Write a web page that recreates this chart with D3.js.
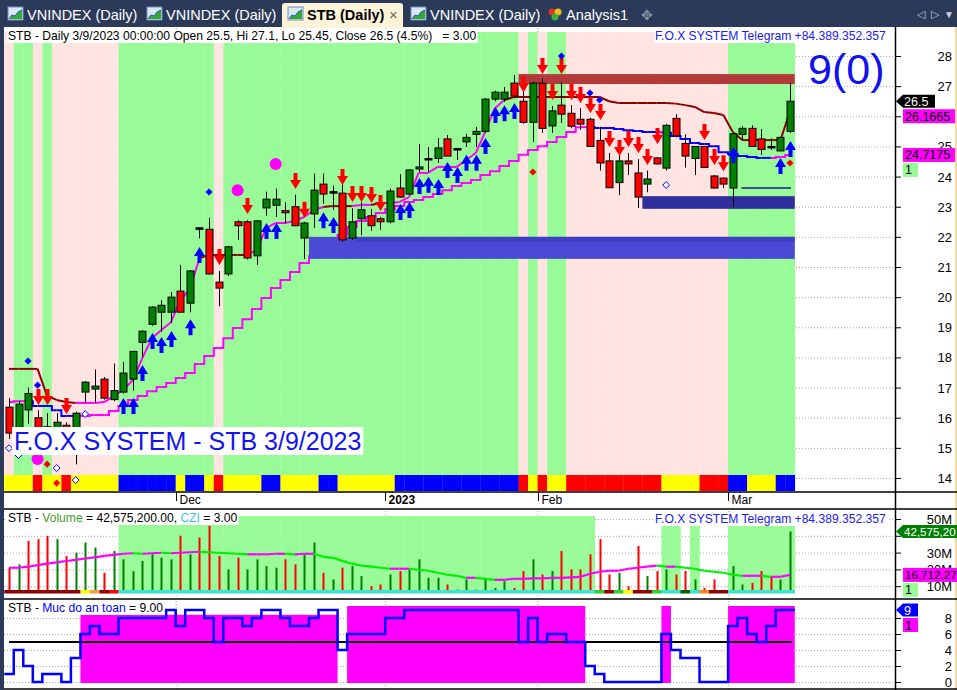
<!DOCTYPE html>
<html>
<head>
<meta charset="utf-8">
<script src="https://cdn.jsdelivr.net/npm/d3@7"></script>
<style>
body { margin: 0; background: #fff; overflow: hidden; }
text { font-family: "Liberation Sans", Arial, sans-serif; }
</style>
</head>
<body>
<script>
// ---- data, one entry per trading day, 8 Nov 2022 .. 9 Mar 2023
var opens  = [16.35,15.5,16.26,16.0,15.4,15.4,15.75,15.4,16.85,16.95,17.28,16.6,16.85,17.28,18.5,19.1,19.5,19.5,20.2,19.8,22.3,22.25,20.5,20.77,22.5,22.5,21.37,22.96,23.05,22.87,23.0,21.96,22.76,23.75,23.5,23.45,21.96,22.6,22.7,22.6,22.5,23.62,23.42,24.25,24.6,24.6,25.25,24.93,25.15,25.4,25.5,26.57,26.57,27.1,26.5,25.8,27.1,25.68,26.37,26.1,25.9,25.9,25.2,24.52,23.8,24.52,24.12,23.75,24.62,24.28,25.93,25.1,24.6,25.0,24.02,23.95,23.62,25.4,25.6,25.25,25.0,24.85,25.5];
var highs  = [16.65,16.55,17.0,16.25,16.15,16.15,15.85,16.2,17.22,17.6,17.35,17.8,17.85,18.2,18.9,19.7,19.9,20.17,21.07,20.9,22.3,22.63,20.87,21.7,22.55,22.55,22.55,23.5,23.6,23.15,23.4,22.5,24.1,24.1,23.7,23.9,22.95,23.15,22.93,22.66,23.6,24.08,24.25,25.08,24.98,25.28,25.38,24.95,25.42,25.65,26.6,26.85,26.97,27.37,26.9,27.15,27.27,26.34,27.14,26.37,26.27,25.95,25.65,24.78,24.8,24.78,24.58,24.2,24.65,25.75,26.07,25.4,25.0,25.02,24.05,23.97,25.45,25.67,25.7,25.58,25.27,25.3,27.1];
var lows   = [15.3,15.4,15.8,15.2,15.2,15.1,15.1,14.45,16.5,16.5,16.6,16.55,16.8,16.9,18.0,19.05,18.85,19.14,19.5,19.5,21.95,20.75,19.7,20.7,21.9,21.25,21.07,22.7,22.66,22.45,22.35,21.27,22.3,23.1,22.9,21.83,21.9,22.05,22.2,22.23,22.45,23.3,23.4,24.15,24.15,24.45,24.68,24.55,24.98,24.98,25.45,26.5,26.48,26.6,25.75,25.15,25.45,25.45,25.78,25.6,25.55,25.0,24.2,23.63,23.38,24.05,22.96,23.48,24.4,24.2,25.3,24.3,24.05,24.3,23.6,23.62,23.0,25.2,25.0,24.72,24.88,24.85,25.45];
var closes = [15.49,16.45,16.8,15.4,15.7,15.85,15.3,16.15,17.18,17.05,16.65,16.9,17.48,18.2,18.87,19.67,19.73,20.0,19.5,20.87,22.3,20.77,20.3,21.67,22.37,21.3,22.53,23.25,23.25,22.8,22.37,22.46,23.55,23.42,23.5,21.9,22.5,22.9,22.37,22.5,23.52,23.32,24.22,24.32,24.6,24.95,24.68,24.93,25.3,25.5,26.57,26.8,26.8,26.67,25.8,27.1,25.6,26.18,26.07,25.67,25.74,25.0,24.45,23.63,24.52,24.42,23.32,23.92,24.42,25.7,25.35,24.68,25.0,24.3,23.62,23.75,25.42,25.6,25.0,24.9,25.0,25.3,26.5];

// trailing lines on the price pane
var upperLine  = [17.62,17.62,17.62,17.62,16.72,16.59,16.52,16.49,16.49,16.49,16.52,16.72,16.92,17.25,17.98,18.64,18.91,19.17,19.9,20.27,21.3,21.4,21.4,21.4,21.4,21.4,21.56,22.29,22.46,22.46,22.53,22.66,22.89,22.99,23.02,23.02,23.02,23.06,23.06,23.12,23.12,23.16,23.32,24.12,24.12,24.32,24.32,24.32,24.55,24.78,25.48,26.27,26.54,26.64,26.64,26.64,26.64,26.64,26.64,26.64,26.64,26.64,26.64,26.5,26.44,26.44,26.44,26.44,26.44,26.44,26.42,26.37,26.31,26.14,26.11,26.04,25.48,25.21,25.21,25.21,25.21,25.21,26.1665];
var upperState = "RRRRRRRRMMMMMMMMMMMMMRRRRRMMMMMMMMRRRMMRMMMMMMMMMMMMMRRRRRRRRRRRRRRRRRRRRRRRRRRRRRRM";
var lowerLine  = [16.52,16.55,16.55,16.39,16.39,16.25,16.06,16.06,16.06,16.09,16.09,16.22,16.39,16.59,16.72,16.88,17.02,17.15,17.32,17.48,17.78,18.05,18.31,18.64,18.98,19.27,19.61,19.97,20.3,20.57,20.83,21.13,21.36,21.63,21.83,22.06,22.33,22.53,22.66,22.79,22.92,23.02,23.16,23.22,23.32,23.42,23.55,23.69,23.79,23.89,24.05,24.18,24.35,24.52,24.72,24.88,25.01,25.15,25.31,25.48,25.64,25.64,25.61,25.61,25.58,25.54,25.51,25.48,25.48,25.45,25.35,25.25,25.11,25.08,25.01,24.81,24.75,24.68,24.65,24.62,24.62,24.65,24.7175];
var lowerState = "BMMBBBBBMMMMMMMMMMMMMMMMMMMMMMMMMMMMMMMMMMMMMMMMMMMMMMMMMMMMMMBBBBBBBMBBBBBBBBBBBMM";

// background regime per day, as runs
var priceBgRuns = [["P",1],["G",2],["P",1],["G",1],["P",7],["G",10],["P",1],["G",31],["P",1],["G",1],["P",1],["G",2],["P",17],["g",7]];
var signalRuns  = [["Y",3],["R",1],["Y",2],["R",1],["Y",5],["B",6],["Y",1],["B",2],["Y",1],["R",1],["Y",4],["B",2],["Y",4],["B",2],["Y",6],["B",13],["R",1],["Y",1],["R",1],["Y",2],["R",10],["Y",4],["R",3],["B",2],["Y",3],["B",2]];

// markers: [day, price]
var buyArrows  = [[12,16.65],[13,16.65],[14,17.75],[15,18.81],[16,18.68],[17,18.88],[19,19.27],[20,21.66],[27,22.46],[28,22.46],[33,22.82],[34,22.66],[41,23.09],[42,23.16],[43,23.95],[44,23.99],[45,23.92],[46,24.48],[47,24.32],[48,24.72],[49,24.72],[50,25.28],[51,26.31],[52,26.37],[53,26.44],[76,24.98],[81,24.62],[82,25.18]];
var sellArrows = [[3,16.42],[4,16.42],[6,16.12],[22,21.07],[25,22.76],[30,23.59],[31,22.63],[35,23.72],[36,23.16],[37,23.16],[38,23.12],[39,22.86],[54,26.8],[56,27.4],[57,26.54],[58,27.4],[59,26.54],[60,26.44],[61,26.11],[62,25.88],[63,24.98],[64,24.68],[65,24.98],[66,24.78],[67,24.38],[68,25.08],[73,25.21],[74,24.38],[75,24.18]];
var blueDots   = [[2,17.88],[3,17.08],[21,23.49],[58,28.0],[61,26.77],[62,26.54]];
var redDots    = [[55,24.15],[82,24.45],[4,14.46],[5,13.83]];
var pinkDots   = [[3,14.63],[24,23.55],[28,24.42]];
var hollowDots = [[8,16.12],[0,14.99],[1,14.76],[5,14.33],[7,13.93],[69,23.72]];

// support / resistance zones: [fromDay, toDay, lowPrice, highPrice]
var zones = [
  { from: 32, to: 82, lo: 21.27, hi: 22.0, kind: "support" },
  { from: 67, to: 82, lo: 22.93, hi: 23.35, kind: "support2" },
  { from: 54, to: 82, lo: 27.07, hi: 27.4, kind: "resist" }
];
var thinLevel = { from: 77, to: 82, price: 23.62 };

// volume pane (millions)
var volumes = [21,23,37,38,40,38,28,30,36,33,18,31,26,19,25,29,27,26,40,29,39,46,28,20,27,20,26,22,21,26,23,29,36,18,14,21,22,16,10,11,17,19,20,26,15,15,11,8,14,8,15,9,13,9,19,26,17,19,31,20,20,29,38,17,18,10,34,16,19,20,17,19,14,9,14,4,22,11,12,19,16,14,42.5752];
var volColors = "RGRRRGRGGGRGGGGGGGRGRRRGRGGGGRRGGRGRGGRRGRGGGGRGGGGGGRRGRGRRRRRRGRRGRGRRGRRRGGRRRGG";
var volAvg = [21.0,21.0,21.6,22.5,23.4,24.2,25.0,25.7,26.5,27.2,28.0,28.7,29.3,29.6,29.3,29.6,29.9,29.6,29.9,30.2,30.5,30.2,29.9,29.6,29.3,29.0,29.0,29.0,29.3,29.3,29.0,29.3,29.3,27.5,26.9,25.1,23.4,22.2,21.6,21.0,20.4,20.4,20.4,19.8,19.2,18.0,16.8,16.2,15.0,15.0,14.4,13.8,13.8,14.4,14.4,14.7,14.7,15.0,15.0,15.3,15.6,17.4,18.6,19.2,19.2,20.4,21.0,21.6,22.2,21.6,21.6,21.0,20.4,19.2,18.6,18.0,16.8,16.2,16.2,16.2,15.6,15.6,16.7123];
var volBgRuns    = [["-",12],["H",50],["-",7],["L",2],["-",1],["L",1],["-",3],["L",7]];
var volStripRuns = [["D",8],["Y",1],["T",1],["D",1],["R",1],["C",50],["G",1],["D",1],["G",1],["Y",1],["D",2],["G",1],["C",2],["K",1],["C",1],["O",1],["D",2],["C",7]];

// safety level pane
var safety = [1,4,2,0,1,1,0,3,6,7,6,6,8,8,8,8,8,9,7,9,9,8,5,8,8,7,8,9,9,8,7,7,8,9,9,4,6,6,6,6,8,8,9,9,9,9,9,9,9,9,9,9,9,9,5,8,5,6,6,5,5,2,1,0,0,0,0,0,0,6,4,3,3,0,0,0,7,8,6,5,7,9,9];
var safeZones = [{ from: 8, to: 34, top: 8.4 }, { from: 36, to: 60, top: 9.5 }, { from: 69, to: 69, top: 9.5 }, { from: 76, to: 82, top: 9.5 }];

var months = [{ day: 18, label: "Dec", bold: false }, { day: 40, label: "2023", bold: true }, { day: 56, label: "Feb", bold: false }, { day: 76, label: "Mar", bold: false }];
var priceTicks = [14,15,16,17,18,19,20,21,22,23,24,25,26,27,28];
var priceLabels = [14,15,16,17,18,19,20,21,22,23,24,25,27,28];   // 26 sits under the value tag
var volTicks = [10,20,30,40,50];
var volLabels = [10,20,30,50];                                   // 40M sits under the volume tag
var safeTicks = [0,2,4,6,8];
var tabs = ["VNINDEX (Daily)", "VNINDEX (Daily)", "STB (Daily)", "VNINDEX (Daily)", "Analysis1"];

// ---- drawing
var W = 957, H = 690;
var svg = d3.select("body").append("svg").attr("width", W).attr("height", H);

var x = d3.scaleLinear().domain([0, closes.length - 1]).range([9, 790]);
var bw = x(1) - x(0);
var y = d3.scaleLinear().domain([14, 28]).range([478, 56]);
var yv = d3.scaleLinear().domain([0, 50]).range([603, 519]);
var ys = d3.scaleLinear().domain([0, 8]).range([682, 618]);

var AXIS_X = 895;
var LABEL_FONT = "12.1px";

function expand(runs) {
    var out = [];
    runs.forEach(function(r) { for (var j = 0; j < r[1]; j++) out.push(r[0]); });
    return out;
}

// frame
svg.append("rect").attr("x", 0).attr("y", 0).attr("width", W).attr("height", H).attr("fill", "#fff");
svg.append("rect").attr("x", 0).attr("y", 0).attr("width", 4).attr("height", H).attr("fill", "#2b3a58");
svg.append("rect").attr("x", 955).attr("y", 27).attr("width", 2).attr("height", H).attr("fill", "#f2d9a2");

// ---------- tab bar
svg.append("rect").attr("x", 0).attr("y", 0).attr("width", W).attr("height", 27).attr("fill", "#2b3a58");
var tabX = [8, 147, 288, 411, 548];
svg.append("path")
    .attr("d", "M282,28 L282,6 Q282,3 285,3 L400,3 Q403,3 403,6 L403,28 Z")
    .attr("fill", "#fdf3d8");
tabs.forEach(function(t, i) {
    var tx = tabX[i];
    if (i < 4) {
        var g = svg.append("g").attr("transform", "translate(" + tx + ",7)");
        g.append("rect").attr("width", 15).attr("height", 13).attr("fill", "#dbe7f5").attr("stroke", "#6d8fc0");
        g.append("path").attr("d", "M1,12 L4,8 L7,9 L10,5 L14,3 L14,12 Z").attr("fill", "#35a835");
        g.append("path").attr("d", "M1,12 L4,8 L7,9 L10,5 L14,3").attr("fill", "none").attr("stroke", "#2a5fb0");
    } else {
        svg.append("circle").attr("cx", tx + 4).attr("cy", 12).attr("r", 3.5).attr("fill", "#e0302a");
        svg.append("circle").attr("cx", tx + 10).attr("cy", 12).attr("r", 3.5).attr("fill", "#f0c020");
        svg.append("circle").attr("cx", tx + 7).attr("cy", 17).attr("r", 3.5).attr("fill", "#3cb040");
    }
    svg.append("text")
        .attr("x", tx + (i < 4 ? 19 : 18)).attr("y", 20)
        .attr("font-size", "14.5px")
        .attr("font-weight", i === 2 ? "bold" : "normal")
        .attr("fill", i === 2 ? "#000" : "#fff")
        .text(t);
});
svg.append("text").attr("x", 389).attr("y", 20).attr("font-size", "15px").attr("fill", "#666").text("×");
svg.append("text").attr("x", 641).attr("y", 20).attr("font-size", "14px").attr("fill", "#8a93a6").text("✥");
svg.append("text").attr("x", 917).attr("y", 18).attr("font-size", "11px").attr("fill", "#c8cdd8").text("◁");
svg.append("text").attr("x", 931).attr("y", 18).attr("font-size", "11px").attr("fill", "#c8cdd8").text("▷");
svg.append("text").attr("x", 944).attr("y", 18).attr("font-size", "10px").attr("fill", "#c8cdd8").text("▼");

// ---------- grid (drawn first; backgrounds sit over it)
function hGrid(vals, scale) {
    svg.append("g").selectAll("line").data(vals).enter().append("line")
        .attr("x1", 4).attr("x2", AXIS_X)
        .attr("y1", function(d) { return scale(d) + 0.5; }).attr("y2", function(d) { return scale(d) + 0.5; })
        .attr("stroke", "#a8a8a8").attr("stroke-dasharray", "1,2");
}
hGrid(priceTicks, y);
hGrid(volTicks, yv);
hGrid(safeTicks, ys);
svg.append("g").selectAll("line").data(months).enter().append("line")
    .attr("x1", function(d) { return x(d.day) - bw / 2 + 0.5; })
    .attr("x2", function(d) { return x(d.day) - bw / 2 + 0.5; })
    .attr("y1", 28).attr("y2", 689)
    .attr("stroke", "#a8a8a8").attr("stroke-dasharray", "1,2");

// ---------- price pane backgrounds
var bgPerDay = expand(priceBgRuns);
svg.append("g").selectAll("rect").data(bgPerDay).enter().append("rect")
    .attr("x", function(d, i) { return x(i) - bw / 2; })
    .attr("width", bw + 0.3)
    .attr("y", function(d) { return d === "g" ? 43 : 32; })
    .attr("height", function(d) { return 475 - (d === "g" ? 43 : 32); })
    .attr("fill", function(d) { return d === "P" ? "#ffe4e1" : "#98fb98"; });

var sigColor = { Y: "#ffff00", R: "#ff0000", B: "#0000ff" };
svg.append("g").selectAll("rect").data(expand(signalRuns)).enter().append("rect")
    .attr("x", function(d, i) { return x(i) - bw / 2; })
    .attr("width", bw + 0.3)
    .attr("y", 475).attr("height", 16)
    .attr("fill", function(d) { return sigColor[d]; });

// ---------- trailing lines
function drawSegments(vals, states, colors, curve) {
    for (var i = 0; i < vals.length - 1; i++) {
        var pts = [[x(i), y(vals[i])], [x(i + 1), y(vals[i + 1])]];
        svg.append("path")
            .attr("d", d3.line().curve(curve)(pts))
            .attr("fill", "none")
            .attr("stroke", colors[states[i + 1]])
            .attr("stroke-width", 2);
    }
}
drawSegments(lowerLine, lowerState, { M: "#ff00ff", B: "#0000ff" }, d3.curveStep);
drawSegments(upperLine, upperState, { M: "#ff00ff", R: "#8b0000" }, d3.curveLinear);

// ---------- zones
var zoneFill = { support: "#4949d6", support2: "#2e2e9c", resist: "#b23a3a" };
zones.forEach(function(z) {
    svg.append("rect")
        .attr("x", x(z.from) - bw / 2).attr("width", x(z.to) - x(z.from) + bw)
        .attr("y", y(z.hi)).attr("height", y(z.lo) - y(z.hi))
        .attr("fill", zoneFill[z.kind]);
});
svg.append("rect")
    .attr("x", x(zones[0].from + 5) - bw / 2).attr("width", x(zones[0].to) - x(zones[0].from + 5) + bw)
    .attr("y", y(zones[0].hi)).attr("height", 5).attr("fill", "#3f3fc4");
svg.append("line")
    .attr("x1", x(thinLevel.from) - 1).attr("x2", x(thinLevel.to) + 1)
    .attr("y1", y(thinLevel.price)).attr("y2", y(thinLevel.price))
    .attr("stroke", "#1a1a8c").attr("stroke-width", 1.5);

// ---------- candles
var candles = svg.append("g").selectAll("g").data(closes).enter().append("g");
candles.append("line")
    .attr("x1", function(d, i) { return Math.round(x(i)) + 0.5; })
    .attr("x2", function(d, i) { return Math.round(x(i)) + 0.5; })
    .attr("y1", function(d, i) { return y(highs[i]); })
    .attr("y2", function(d, i) { return y(lows[i]); })
    .attr("stroke", "#000");
candles.append("rect")
    .attr("x", function(d, i) { return Math.round(x(i)) - 3; })
    .attr("width", 7)
    .attr("y", function(d, i) { return y(Math.max(opens[i], d)); })
    .attr("height", function(d, i) { return Math.max(1.5, Math.abs(y(opens[i]) - y(d))); })
    .attr("fill", function(d, i) {
        if (Math.abs(d - opens[i]) < 0.03) return "#000";
        return d > opens[i] ? "#008000" : "#ff0000";
    })
    .attr("stroke", "#000").attr("stroke-width", 1);

// ---------- markers
svg.append("g").selectAll("path").data(buyArrows).enter().append("path")
    .attr("d", function(d) {
        var cx = Math.round(x(d[0])) + 0.5, ty = y(d[1]);
        return "M" + cx + "," + ty + " L" + (cx + 5.5) + "," + (ty + 9) + " L" + (cx + 2) + "," + (ty + 9) +
            " L" + (cx + 2) + "," + (ty + 16) + " L" + (cx - 2) + "," + (ty + 16) + " L" + (cx - 2) + "," + (ty + 9) +
            " L" + (cx - 5.5) + "," + (ty + 9) + " Z";
    })
    .attr("fill", "#0000ff");
svg.append("g").selectAll("path").data(sellArrows).enter().append("path")
    .attr("d", function(d) {
        var cx = Math.round(x(d[0])) + 0.5, ty = y(d[1]);
        return "M" + cx + "," + ty + " L" + (cx + 5.5) + "," + (ty - 9) + " L" + (cx + 2) + "," + (ty - 9) +
            " L" + (cx + 2) + "," + (ty - 16) + " L" + (cx - 2) + "," + (ty - 16) + " L" + (cx - 2) + "," + (ty - 9) +
            " L" + (cx - 5.5) + "," + (ty - 9) + " Z";
    })
    .attr("fill", "#ff0000");

var diamond = d3.symbol().type(d3.symbolDiamond2 || d3.symbolDiamond).size(32);
svg.append("g").selectAll("path").data(blueDots).enter().append("path")
    .attr("transform", function(d) { return "translate(" + x(d[0]) + "," + y(d[1]) + ")"; })
    .attr("d", diamond).attr("fill", "#0000ff");
svg.append("g").selectAll("path").data(redDots).enter().append("path")
    .attr("transform", function(d) { return "translate(" + x(d[0]) + "," + y(d[1]) + ")"; })
    .attr("d", diamond).attr("fill", "#ff0000");
svg.append("g").selectAll("path").data(hollowDots).enter().append("path")
    .attr("transform", function(d) { return "translate(" + x(d[0]) + "," + y(d[1]) + ")"; })
    .attr("d", d3.symbol().type(d3.symbolDiamond2 || d3.symbolDiamond).size(30))
    .attr("fill", "#fff").attr("stroke", "#0000ff").attr("stroke-width", 1);
svg.append("g").selectAll("circle").data(pinkDots).enter().append("circle")
    .attr("cx", function(d) { return x(d[0]); }).attr("cy", function(d) { return y(d[1]); })
    .attr("r", 6).attr("fill", "#ff00ff");

// ---------- texts on price pane
function boxedText(tx, ty, str, size, color, opts) {
    opts = opts || {};
    var g = svg.append("g");
    var bg = g.append("rect").attr("fill", opts.bg || "#fff");
    var t = g.append("text").attr("x", tx).attr("y", ty).attr("font-size", size).attr("fill", color)
        .style("white-space", "pre").text(str);
    var b = t.node().getBBox();
    bg.attr("x", b.x - (opts.padL || 1)).attr("y", b.y).attr("width", b.width + (opts.padL || 1) + (opts.padR || 1)).attr("height", b.height);
    return g;
}
boxedText(14, 450, "F.O.X SYSTEM - STB 3/9/2023", "25px", "#1414f0", { padL: 2, padR: 2 });
boxedText(8, 40, "STB - Daily 3/9/2023 00:00:00 Open 25.5, Hi 27.1, Lo 25.45, Close 26.5 (4.5%)   = 3.00", LABEL_FONT, "#000");
boxedText(655, 40, "F.O.X SYSTEM Telegram +84.389.352.357", LABEL_FONT, "#2020ee");
svg.append("text").attr("x", 808).attr("y", 84).attr("font-size", "43px").attr("fill", "#1010f0").text("9(0)");

// ---------- panel lines and date axis
svg.append("rect").attr("x", 4).attr("y", 492).attr("width", AXIS_X - 4).attr("height", 17).attr("fill", "#fff");
[492, 509, 599, 689].forEach(function(ly) {
    svg.append("line").attr("x1", 4).attr("x2", W).attr("y1", ly).attr("y2", ly).attr("stroke", "#000").attr("stroke-width", 1.5);
});
svg.append("line").attr("x1", AXIS_X + 0.5).attr("x2", AXIS_X + 0.5).attr("y1", 27).attr("y2", 690).attr("stroke", "#000").attr("stroke-width", 1.5);
months.forEach(function(m) {
    var mx = Math.round(x(m.day) - bw / 2) + 0.5;
    svg.append("line").attr("x1", mx).attr("x2", mx).attr("y1", 492).attr("y2", 501).attr("stroke", "#000");
    svg.append("text").attr("x", mx + 3).attr("y", 504).attr("font-size", "12px")
        .attr("font-weight", m.bold ? "bold" : "normal").text(m.label);
});

// ---------- volume pane
var volBg = expand(volBgRuns);
volBg.forEach(function(d, i) {
    if (d === "-") return;
    var top = d === "H" ? 516 : 526;
    svg.append("rect").attr("x", x(i) - bw / 2).attr("width", bw + 0.3)
        .attr("y", top).attr("height", 590 - top).attr("fill", "#98fb98");
});
var vsColor = { D: "#8b0000", Y: "#ffff00", T: "#f0a050", R: "#ff0000", C: "#40e0d0", G: "#32cd32", K: "#006400", O: "#ff7f27" };
svg.append("g").selectAll("rect").data(expand(volStripRuns)).enter().append("rect")
    .attr("x", function(d, i) { return x(i) - bw / 2; })
    .attr("width", bw + 0.3)
    .attr("y", 590).attr("height", 3.5)
    .attr("fill", function(d) { return vsColor[d]; });
svg.append("g").selectAll("rect").data(volumes).enter().append("rect")
    .attr("x", function(d, i) { return Math.round(x(i)) - 0.5; })
    .attr("width", 2)
    .attr("y", function(d) { return yv(d); })
    .attr("height", function(d) { return Math.max(0, 590 - yv(d)); })
    .attr("fill", function(d, i) { return volColors[i] === "G" ? "#008000" : "#ff0000"; });
for (var i = 0; i < volAvg.length - 1; i++) {
    svg.append("line")
        .attr("x1", x(i)).attr("x2", x(i + 1))
        .attr("y1", yv(volAvg[i])).attr("y2", yv(volAvg[i + 1]))
        .attr("stroke", volAvg[i + 1] >= volAvg[i] ? "#ff00ff" : "#00ee00")
        .attr("stroke-width", 2.2);
}

function multiText(tx, ty, parts) {
    var g = svg.append("g");
    var bg = g.append("rect").attr("fill", "#fff");
    var t = g.append("text").attr("x", tx).attr("y", ty).attr("font-size", LABEL_FONT).style("white-space", "pre");
    parts.forEach(function(p) { t.append("tspan").attr("fill", p[1]).text(p[0]); });
    var b = t.node().getBBox();
    bg.attr("x", b.x - 1).attr("y", b.y).attr("width", b.width + 2).attr("height", b.height);
}
multiText(8, 522, [["STB - ", "#000"], ["Volume", "#4a9a2a"], [" = 42,575,200.00, ", "#000"], ["CZI", "#36c8d8"], [" = 3.00", "#000"]]);
boxedText(655, 523, "F.O.X SYSTEM Telegram +84.389.352.357", LABEL_FONT, "#2020ee");

// ---------- safety pane
safeZones.forEach(function(z) {
    svg.append("rect").attr("x", x(z.from) - bw / 2).attr("width", x(z.to) - x(z.from) + bw)
        .attr("y", ys(z.top)).attr("height", 683 - ys(z.top)).attr("fill", "#ff00ff");
});
svg.append("line").attr("x1", 9).attr("x2", 792).attr("y1", ys(5)).attr("y2", ys(5))
    .attr("stroke", "#000").attr("stroke-width", 2.2);
var stepPts = safety.map(function(v, i) { return [x(i) - bw / 2, ys(v)]; });
stepPts.push([x(safety.length - 1) + bw / 2, ys(safety[safety.length - 1])]);
svg.append("path").attr("d", d3.line().curve(d3.curveStepAfter)(stepPts))
    .attr("fill", "none").attr("stroke", "#0000ff").attr("stroke-width", 2.5);
multiText(8, 612, [["STB - ", "#000"], ["Muc do an toan", "#0000ff"], [" = 9.00", "#000"]]);

// ---------- right axes
function axisTicks(vals, scale) {
    vals.forEach(function(v) {
        svg.append("line").attr("x1", AXIS_X).attr("x2", AXIS_X + 6)
            .attr("y1", scale(v) + 0.5).attr("y2", scale(v) + 0.5).attr("stroke", "#000");
    });
}
function axisLabels(vals, scale, fmt) {
    vals.forEach(function(v) {
        svg.append("text").attr("x", 952).attr("y", scale(v) + 5).attr("text-anchor", "end")
            .attr("font-size", "13px").text(fmt(v));
    });
}
axisTicks(priceTicks, y);
axisTicks(volTicks, yv);
axisTicks(safeTicks, ys);
axisLabels(priceLabels, y, function(v) { return v; });
axisLabels(volLabels, yv, function(v) { return v + "M"; });
axisLabels(safeTicks, ys, function(v) { return v; });

function pointer(cy, str, fill, color, x2, size) {
    var g = svg.append("g");
    g.append("path").attr("d", "M" + (AXIS_X + 1) + "," + cy + " L" + (AXIS_X + 8) + "," + (cy - 6.5) + " L" + x2 + "," + (cy - 6.5) +
        " L" + x2 + "," + (cy + 6.5) + " L" + (AXIS_X + 8) + "," + (cy + 6.5) + " Z").attr("fill", fill);
    g.append("text").attr("x", AXIS_X + 9).attr("y", cy + 4.5).attr("font-size", size || "12.5px").attr("fill", color).text(str);
}
function tag(cy, str, fill, color, x2, size) {
    svg.append("rect").attr("x", 903).attr("y", cy - 7).attr("width", x2 - 903).attr("height", 14).attr("fill", fill);
    svg.append("text").attr("x", 905).attr("y", cy + 4.5).attr("font-size", size || "12.5px").attr("fill", color).text(str);
}
// value tags stack downwards so they do not cover each other
pointer(y(closes[closes.length - 1]), "26.5", "#000", "#fff", 935);
tag(y(closes[closes.length - 1]) + 15, "26.1665", "#ff00ff", "#000", 955);
tag(y(lowerLine[lowerLine.length - 1]), "24.7175", "#ff00ff", "#000", 955);
tag(y(lowerLine[lowerLine.length - 1]) + 15, "1", "#98fb98", "#000", 918);

// the window cuts these two values off at its edge
pointer(yv(volumes[volumes.length - 1]), "42,575,20", "#008000", "#fff", 957, "11.6px");
tag(yv(volAvg[volAvg.length - 1]), "16,712,27", "#ff00ff", "#000", 957, "11.6px");
tag(yv(volAvg[volAvg.length - 1]) + 15, "1", "#98fb98", "#000", 918);

pointer(ys(safety[safety.length - 1]), "9", "#0000ff", "#fff", 918);
tag(ys(safety[safety.length - 1]) + 15, "1", "#ff00ff", "#000", 918);
</script>
</body>
</html>
